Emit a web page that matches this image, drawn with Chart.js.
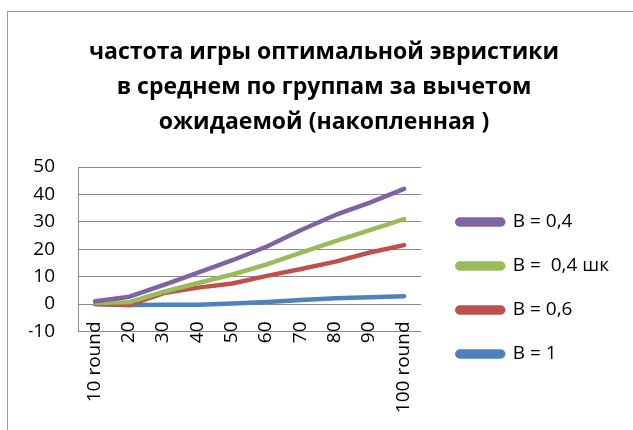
<!DOCTYPE html>
<html>
<head>
<meta charset="utf-8">
<script src="https://cdn.jsdelivr.net/npm/chart.js@4"></script>
<style>
  body { margin: 0; background: #fff; }
  #frame { position: absolute; left: 7px; top: 11px; width: 700px; height: 500px;
           border-left: 1px solid #9a9a9a; border-top: 1px solid #9a9a9a; }
  #myChart { position: absolute; left: 0; top: 0; }
</style>
</head>
<body>
<div id="frame"></div>
<canvas id="myChart" width="633" height="430"></canvas>
<script>
const rounds = ['10 round', '20', '30', '40', '50', '60', '70', '80', '90', '100 round'];

// накопленная частота по группам
const b04 = [1, 2.7, 7, 11.5, 16, 21, 27, 32.5, 37, 42];
const b04shk = [0.5, 0.7, 4.5, 7.7, 10.8, 14.5, 18.8, 23, 27, 31];
const b06 = [0, -0.3, 4, 6, 7.5, 10.3, 12.8, 15.5, 18.8, 21.5];
const b1 = [0, -0.3, -0.2, -0.2, 0.2, 0.8, 1.5, 2.1, 2.5, 2.9];

const yTicks = [-10, 0, 10, 20, 30, 40, 50];

const font = '"Open Sans", "Noto Sans", sans-serif';

function line(label, data, color) {
    return {
        label: label,
        data: data,
        borderColor: color,
        backgroundColor: color,
        borderWidth: 4.5,
        borderCapStyle: 'round',
        borderJoinStyle: 'round',
        pointRadius: 0,
        tension: 0
    };
}

const ctx = document.getElementById('myChart').getContext('2d');
const myChart = new Chart(ctx, {
    type: 'line',
    data: {
        labels: rounds,
        datasets: [
            line('B = 0,4', b04, '#8064A2'),
            line('B =  0,4 шк', b04shk, '#9BBB59'),
            line('B = 0,6', b06, '#C0504D'),
            line('B = 1', b1, '#4F81BD')
        ]
    },
    options: {
        responsive: false,
        animation: false,
        layout: {
            padding: { left: 29, right: 14, top: 13, bottom: 41.5 }
        },
        plugins: {
            title: {
                display: true,
                text: ['частота игры оптимальной эвристики', 'в среднем по группам за вычетом', 'ожидаемой (накопленная )'],
                color: '#000',
                font: { family: font, size: 23, weight: 'bold', lineHeight: '35px' },
                padding: { top: 22, bottom: 27 }
            },
            legend: {
                position: 'right',
                align: 'end',
                maxWidth: 230,
                labels: {
                    color: '#000',
                    font: { family: font, size: 19 },
                    boxWidth: 46,
                    boxHeight: 5,
                    useBorderRadius: true,
                    borderRadius: 2.5,
                    padding: 25
                }
            },
            tooltip: { enabled: false }
        },
        scales: {
            x: {
                offset: true,
                grid: { display: false, drawTicks: false },
                border: { display: false },
                ticks: {
                    color: '#000',
                    font: { family: font, size: 19, lineHeight: '1px' },
                    minRotation: 90,
                    maxRotation: 90,
                    autoSkip: false,
                    mirror: true,
                    padding: 10
                },
                afterFit: function(scale) {
                    scale.height = 57;
                }
            },
            y: {
                min: -10,
                max: 50,
                afterBuildTicks: function(scale) {
                    scale.ticks = yTicks.map(v => ({ value: v }));
                },
                grid: { color: '#8c8c8c', lineWidth: 1, drawTicks: false },
                border: { display: true, color: '#8c8c8c', width: 1 },
                ticks: {
                    color: '#000',
                    font: { family: font, size: 19 },
                    padding: 23
                },
                afterFit: function(scale) {
                    scale.width = 49;
                }
            },
            spacer: {
                position: 'right',
                display: true,
                grid: { display: false, drawTicks: false },
                border: { display: false },
                ticks: { display: false },
                afterFit: function(scale) {
                    scale.width = 11;
                }
            }
        }
    }
});
</script>
</body>
</html>
